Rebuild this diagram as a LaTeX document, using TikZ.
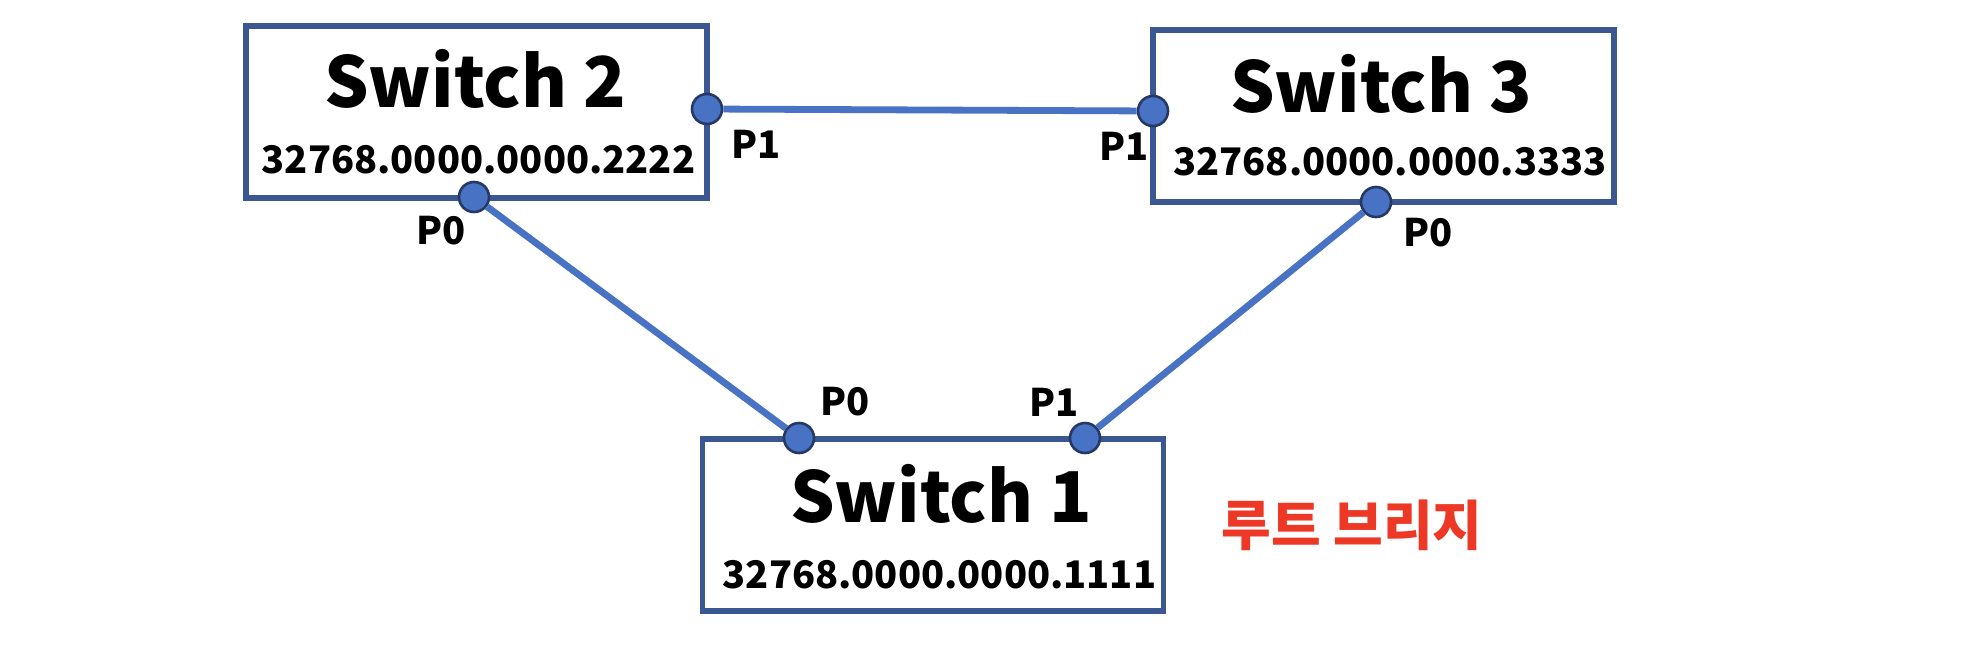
\documentclass[tikz,border=0pt]{standalone}
\usepackage{fontspec}
\setmainfont{Noto Sans CJK KR}
\definecolor{boxblue}{RGB}{59,87,145}
\definecolor{linkblue}{RGB}{72,114,196}
\definecolor{portedge}{RGB}{38,56,100}
\definecolor{rootred}{RGB}{236,56,36}
\tikzset{
  switchbox/.style={draw=boxblue, line width=5.7pt, fill=white, rectangle, minimum width=461pt, minimum height=172pt, inner sep=0pt},
  port/.style={circle, draw=portedge, line width=2.6pt, fill=linkblue, minimum size=30pt, inner sep=0pt},
  link/.style={draw=linkblue, line width=6.8pt},
  title/.style={anchor=base, font=\fontsize{70}{78}\selectfont\bfseries, inner sep=0pt},
  idtext/.style={anchor=base, font=\fontsize{38}{44}\selectfont\bfseries, inner sep=0pt},
  portlabel/.style={font=\fontsize{38}{44}\selectfont\bfseries, inner sep=0pt},
  rootlabel/.style={font=\fontsize{54}{60}\selectfont\bfseries, text=rootred, inner sep=0pt}
}
\begin{document}
\begin{tikzpicture}[x=1pt, y=-1pt]
\useasboundingbox[fill=white] (0,0) rectangle (1968,656);
% boxes
\node[switchbox] (s2) at (476.5,112) {};
\node[switchbox] (s3) at (1383.5,116.25) {};
\node[switchbox] (s1) at (933,525.25) {};
% texts
\node[title] (s2t) at (475,107) {Switch 2};
\node[idtext] (s2id) at (478.5,173) {32768.0000.0000.2222};
\node[title] (s3t) at (1381,112) {Switch 3};
\node[idtext] (s3id) at (1390,175) {32768.0000.0000.3333};
\node[title] (s1t) at (941,522) {Switch 1};
\node[idtext] (s1id) at (939.5,588) {32768.0000.0000.1111};
% ports
\node[port] (s2p1) at (707,109) {};
\node[port] (s2p0) at (474,197) {};
\node[port] (s3p1) at (1153,111) {};
\node[port] (s3p0) at (1376,202) {};
\node[port] (s1p0) at (799,438) {};
\node[port] (s1p1) at (1085,438) {};
% links
\path[link] (s2p1) -- (s3p1);
\path[link] (s2p0) -- (s1p0);
\path[link] (s3p0) -- (s1p1);
% port labels
\node[portlabel] (l2p1) at (756,144) {P1};
\node[portlabel] (l2p0) at (441,231) {P0};
\node[portlabel] (l3p1) at (1124,146) {P1};
\node[portlabel] (l3p0) at (1428,233) {P0};
\node[portlabel] (l1p0) at (845,402) {P0};
\node[portlabel] (l1p1) at (1054,402) {P1};
% root label
\node[rootlabel] (root) at (1352,525) {루트 브리지};
\end{tikzpicture}
\end{document}
